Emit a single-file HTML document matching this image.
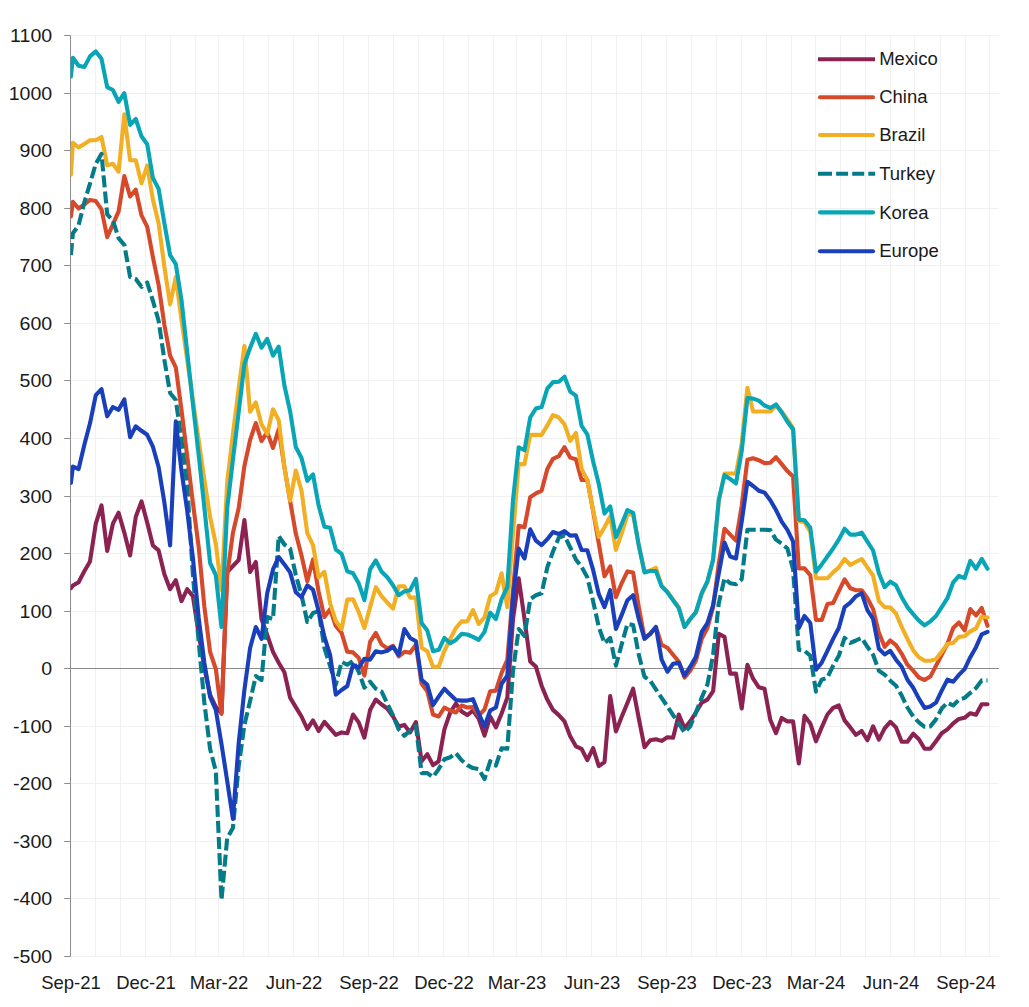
<!DOCTYPE html><html><head><meta charset="utf-8"><title>Chart</title><style>html,body{margin:0;padding:0;background:#fff;overflow:hidden}svg{display:block}text{font-family:"Liberation Sans",sans-serif;fill:#1a1a1a}</style></head><body>
<svg width="1029" height="1007" viewBox="0 0 1029 1007">
<rect width="1029" height="1007" fill="#fff"/>
<path d="M70.5 956.5H999.0M70.5 898.5H999.0M70.5 841.5H999.0M70.5 783.5H999.0M70.5 726.5H999.0M70.5 611.5H999.0M70.5 553.5H999.0M70.5 496.5H999.0M70.5 438.5H999.0M70.5 380.5H999.0M70.5 323.5H999.0M70.5 265.5H999.0M70.5 208.5H999.0M70.5 150.5H999.0M70.5 93.5H999.0M70.5 35.5H999.0M95.5 35.5V956.5M120.5 35.5V956.5M145.5 35.5V956.5M170.5 35.5V956.5M195.5 35.5V956.5M218.5 35.5V956.5M243.5 35.5V956.5M268.5 35.5V956.5M293.5 35.5V956.5M318.5 35.5V956.5M343.5 35.5V956.5M368.5 35.5V956.5M393.5 35.5V956.5M418.5 35.5V956.5M443.5 35.5V956.5M468.5 35.5V956.5M493.5 35.5V956.5M516.5 35.5V956.5M541.5 35.5V956.5M566.5 35.5V956.5M591.5 35.5V956.5M616.5 35.5V956.5M641.5 35.5V956.5M666.5 35.5V956.5M691.5 35.5V956.5M716.5 35.5V956.5M741.5 35.5V956.5M766.5 35.5V956.5M791.5 35.5V956.5M815.5 35.5V956.5M840.5 35.5V956.5M865.5 35.5V956.5M890.5 35.5V956.5M914.5 35.5V956.5M940.5 35.5V956.5M965.5 35.5V956.5M989.5 35.5V956.5" stroke="#f0f0f0" stroke-width="1" fill="none"/>
<path d="M70.5 35.5V956.5M70.5 668.5H999.0M64.2 956.5H70.5M64.2 898.5H70.5M64.2 841.5H70.5M64.2 783.5H70.5M64.2 726.5H70.5M64.2 668.5H70.5M64.2 611.5H70.5M64.2 553.5H70.5M64.2 496.5H70.5M64.2 438.5H70.5M64.2 380.5H70.5M64.2 323.5H70.5M64.2 265.5H70.5M64.2 208.5H70.5M64.2 150.5H70.5M64.2 93.5H70.5M64.2 35.5H70.5" stroke="#8c8c8c" stroke-width="1" fill="none"/>
<text transform="translate(52.2 962.8) scale(1 0.9)" font-size="19.6" text-anchor="end">-500</text>
<text transform="translate(52.2 904.8) scale(1 0.9)" font-size="19.6" text-anchor="end">-400</text>
<text transform="translate(52.2 847.8) scale(1 0.9)" font-size="19.6" text-anchor="end">-300</text>
<text transform="translate(52.2 789.8) scale(1 0.9)" font-size="19.6" text-anchor="end">-200</text>
<text transform="translate(52.2 732.8) scale(1 0.9)" font-size="19.6" text-anchor="end">-100</text>
<text transform="translate(52.2 674.8) scale(1 0.9)" font-size="19.6" text-anchor="end">0</text>
<text transform="translate(52.2 617.8) scale(1 0.9)" font-size="19.6" text-anchor="end">100</text>
<text transform="translate(52.2 559.8) scale(1 0.9)" font-size="19.6" text-anchor="end">200</text>
<text transform="translate(52.2 502.8) scale(1 0.9)" font-size="19.6" text-anchor="end">300</text>
<text transform="translate(52.2 444.8) scale(1 0.9)" font-size="19.6" text-anchor="end">400</text>
<text transform="translate(52.2 386.8) scale(1 0.9)" font-size="19.6" text-anchor="end">500</text>
<text transform="translate(52.2 329.8) scale(1 0.9)" font-size="19.6" text-anchor="end">600</text>
<text transform="translate(52.2 271.8) scale(1 0.9)" font-size="19.6" text-anchor="end">700</text>
<text transform="translate(52.2 214.8) scale(1 0.9)" font-size="19.6" text-anchor="end">800</text>
<text transform="translate(52.2 156.8) scale(1 0.9)" font-size="19.6" text-anchor="end">900</text>
<text transform="translate(52.2 99.8) scale(1 0.9)" font-size="19.6" text-anchor="end">1000</text>
<text transform="translate(52.2 41.8) scale(1 0.9)" font-size="19.6" text-anchor="end">1100</text>
<text x="71.0" y="989" font-size="18.5" text-anchor="middle">Sep-21</text>
<text x="146.0" y="989" font-size="18.5" text-anchor="middle">Dec-21</text>
<text x="219.0" y="989" font-size="18.5" text-anchor="middle">Mar-22</text>
<text x="294.0" y="989" font-size="18.5" text-anchor="middle">Jun-22</text>
<text x="369.0" y="989" font-size="18.5" text-anchor="middle">Sep-22</text>
<text x="444.0" y="989" font-size="18.5" text-anchor="middle">Dec-22</text>
<text x="517.0" y="989" font-size="18.5" text-anchor="middle">Mar-23</text>
<text x="592.0" y="989" font-size="18.5" text-anchor="middle">Jun-23</text>
<text x="667.0" y="989" font-size="18.5" text-anchor="middle">Sep-23</text>
<text x="742.0" y="989" font-size="18.5" text-anchor="middle">Dec-23</text>
<text x="816.0" y="989" font-size="18.5" text-anchor="middle">Mar-24</text>
<text x="891.0" y="989" font-size="18.5" text-anchor="middle">Jun-24</text>
<text x="966.0" y="989" font-size="18.5" text-anchor="middle">Sep-24</text>
<clipPath id="c"><rect x="70.5" y="0" width="928.5" height="1007"/></clipPath>
<g clip-path="url(#c)" fill="none" stroke-width="4.1" stroke-linejoin="round" stroke-linecap="round">
<path d="M70.9 588.2L72.9 585.6L78.6 582.2L84.3 571.3L90.0 561.4L95.8 523.6L101.5 505.4L107.2 551.0L112.9 523.6L118.6 512.7L124.3 532.6L130.1 555.4L135.8 516.7L141.5 501.4L147.2 522.6L152.9 545.5L158.6 550.4L164.4 574.3L170.1 589.2L175.8 580.2L181.5 601.1L187.2 589.2L192.9 596.1L198.7 634.0L204.4 668.0L210.1 695.0L215.8 707.0L221.5 713.0L227.2 572.0L232.9 566.0L238.7 560.0L244.4 520.0L250.1 572.0L255.8 562.0L261.5 619.0L267.2 634.9L273.0 651.9L278.7 662.8L284.4 672.2L290.1 697.6L295.8 707.1L301.5 716.5L307.3 729.0L313.0 720.4L318.7 731.0L324.4 721.8L330.1 728.4L335.8 734.9L341.6 732.4L347.3 733.3L353.0 714.5L358.7 722.4L364.4 737.7L370.1 709.9L375.8 699.6L381.6 704.5L387.3 708.5L393.0 716.5L398.7 726.4L404.4 724.9L410.1 732.4L415.9 722.1L421.6 761.2L427.3 754.2L433.0 765.1L438.7 761.2L444.4 729.4L450.2 712.5L455.9 703.6L461.6 711.5L467.3 715.1L473.0 710.5L478.7 718.5L484.5 735.7L490.2 716.5L495.9 727.4L501.6 713.5L507.3 697.6L513.0 619.0L518.7 578.3L524.5 619.0L530.2 661.5L535.9 666.6L541.6 685.7L547.3 699.6L553.0 709.9L558.8 715.1L564.5 721.4L570.2 736.3L575.9 746.3L581.6 748.9L587.3 760.2L593.1 748.2L598.8 766.1L604.5 762.1L610.2 696.0L615.9 731.4L621.6 717.1L627.4 703.0L633.1 688.7L638.8 718.5L644.5 747.2L650.2 740.3L655.9 739.3L661.6 740.9L667.4 737.3L673.1 737.7L678.8 714.5L684.5 728.4L690.2 721.4L695.9 712.5L701.7 702.6L707.4 699.6L713.1 691.2L718.8 633.9L724.5 636.9L730.2 673.6L736.0 673.6L741.7 708.5L747.4 664.7L753.1 678.7L758.8 687.3L764.5 688.7L770.3 719.9L776.0 733.1L781.7 717.9L787.4 721.4L793.1 721.4L798.8 763.5L804.5 715.9L810.3 723.4L816.0 741.3L821.7 727.4L827.4 714.5L833.1 707.9L838.8 705.5L844.6 720.4L850.3 727.4L856.0 734.9L861.7 731.0L867.4 740.3L873.1 726.4L878.9 739.7L884.6 728.4L890.3 721.8L896.0 727.4L901.7 741.7L907.4 741.7L913.2 733.7L918.9 739.3L924.6 748.8L930.3 748.8L936.0 741.3L941.7 733.3L947.4 729.4L953.2 723.4L958.9 718.9L964.6 717.8L970.3 713.2L976.0 714.8L981.7 704.3L987.5 704.3" stroke="#8C2252"/>
<path d="M70.9 216.4L72.9 201.9L78.6 208.5L84.3 204.5L90.0 199.9L95.8 201.1L101.5 209.4L107.2 237.2L112.9 224.3L118.6 211.4L124.3 176.1L130.1 196.5L135.8 189.6L141.5 215.4L147.2 226.7L152.9 257.1L158.6 284.9L164.4 325.0L170.1 355.7L175.8 367.3L181.5 410.0L187.2 456.0L192.9 503.0L198.7 547.0L204.4 607.0L210.1 652.0L215.8 669.0L221.5 714.0L227.2 575.0L232.9 533.0L238.7 508.0L244.4 466.0L250.1 440.0L255.8 423.0L261.5 441.1L267.2 432.1L273.0 448.0L278.7 429.2L284.4 467.0L290.1 500.9L295.8 533.6L301.5 555.5L307.3 581.3L313.0 559.4L318.7 592.2L324.4 617.0L330.1 609.1L335.8 626.0L341.6 632.9L347.3 651.8L353.0 652.4L358.7 657.8L364.4 675.6L370.1 641.9L375.8 632.9L381.6 644.4L387.3 648.4L393.0 645.8L398.7 656.4L404.4 651.8L410.1 652.8L415.9 644.8L421.6 683.7L427.3 691.2L433.0 714.5L438.7 716.5L444.4 707.5L450.2 710.5L455.9 712.5L461.6 705.5L467.3 707.5L473.0 707.1L478.7 715.5L484.5 709.5L490.2 691.2L495.9 690.6L501.6 672.8L507.3 659.9L513.0 590.9L518.7 525.7L524.5 527.2L530.2 497.2L535.9 493.4L541.6 490.6L547.3 469.1L553.0 458.8L558.8 456.2L564.5 447.2L570.2 457.6L575.9 459.2L581.6 480.0L587.3 480.0L593.1 510.8L598.8 543.6L604.5 576.3L610.2 566.4L615.9 597.2L621.6 583.3L627.4 571.4L633.1 572.4L638.8 607.1L644.5 637.9L650.2 633.9L655.9 627.0L661.6 644.8L667.4 647.8L673.1 654.8L678.8 661.7L684.5 677.6L690.2 670.7L695.9 660.7L701.7 638.9L707.4 628.0L713.1 607.1L718.8 563.4L724.5 528.7L730.2 534.6L736.0 540.6L741.7 505.8L747.4 459.8L753.1 458.2L758.8 460.2L764.5 463.1L770.3 462.7L776.0 457.2L781.7 464.1L787.4 471.1L793.1 476.6L798.8 568.4L804.5 568.4L810.3 575.3L816.0 620.0L821.7 620.0L827.4 604.1L833.1 603.1L838.8 591.2L844.6 579.3L850.3 588.2L856.0 590.2L861.7 590.2L867.4 598.2L873.1 609.1L878.9 632.9L884.6 646.8L890.3 640.5L896.0 645.2L901.7 653.8L907.4 664.7L913.2 670.7L918.9 677.6L924.6 680.0L930.3 676.6L936.0 665.7L941.7 654.8L947.4 643.9L953.2 628.0L958.9 622.5L964.6 630.4L970.3 609.1L976.0 615.5L981.7 607.9L987.5 625.8" stroke="#D6492A"/>
<path d="M70.9 174.7L72.9 142.9L78.6 147.5L84.3 143.9L90.0 140.3L95.8 140.3L101.5 137.0L107.2 165.4L112.9 163.8L118.6 171.7L124.3 114.4L130.1 160.2L135.8 160.2L141.5 183.2L147.2 165.7L152.9 199.5L158.6 223.3L164.4 267.0L170.1 304.4L175.8 277.0L181.5 320.0L187.2 360.0L192.9 400.0L198.7 440.0L204.4 480.0L210.1 517.0L215.8 544.0L221.5 590.0L227.2 482.0L232.9 434.0L238.7 388.0L244.4 346.0L250.1 411.7L255.8 402.4L261.5 424.2L267.2 434.1L273.0 409.3L278.7 420.2L284.4 466.9L290.1 500.7L295.8 470.5L301.5 490.7L307.3 533.2L313.0 545.1L318.7 577.3L324.4 571.8L330.1 603.1L335.8 621.0L341.6 629.0L347.3 599.6L353.0 599.2L358.7 612.1L364.4 628.0L370.1 607.1L375.8 587.2L381.6 596.2L387.3 602.7L393.0 608.7L398.7 586.3L404.4 586.3L410.1 597.6L415.9 597.6L421.6 647.8L427.3 651.2L433.0 666.7L438.7 666.7L444.4 650.8L450.2 638.9L455.9 628.0L461.6 621.4L467.3 621.4L473.0 610.1L478.7 624.0L484.5 617.4L490.2 596.2L495.9 592.8L501.6 573.3L507.3 607.1L513.0 533.6L518.7 464.1L524.5 464.1L530.2 434.9L535.9 434.9L541.6 434.9L547.3 425.4L553.0 415.1L558.8 417.5L564.5 424.4L570.2 440.9L575.9 432.9L581.6 469.1L587.3 480.0L593.1 510.3L598.8 537.1L604.5 527.2L610.2 516.3L615.9 549.9L621.6 533.6L627.4 514.8L633.1 513.8L638.8 545.5L644.5 571.8L650.2 570.4L655.9 567.8L661.6 585.7L667.4 591.6L673.1 599.6L678.8 607.5L684.5 627.0L690.2 619.4L695.9 612.7L701.7 594.2L707.4 582.3L713.1 560.4L718.8 501.4L724.5 473.5L730.2 473.5L736.0 473.5L741.7 443.3L747.4 387.7L753.1 411.5L758.8 411.5L764.5 411.5L770.3 411.5L776.0 405.5L781.7 411.5L787.4 419.4L793.1 428.4L798.8 521.1L804.5 522.3L810.3 531.7L816.0 578.3L821.7 578.3L827.4 578.3L833.1 572.4L838.8 567.4L844.6 559.0L850.3 565.0L856.0 561.8L861.7 559.0L867.4 567.4L873.1 575.7L878.9 601.2L884.6 607.1L890.3 607.5L896.0 613.5L901.7 627.0L907.4 638.9L913.2 650.4L918.9 657.2L924.6 660.7L930.3 660.7L936.0 659.1L941.7 651.8L947.4 643.9L953.2 642.9L958.9 636.9L964.6 636.3L970.3 631.4L976.0 628.4L981.7 616.5L987.5 617.5" stroke="#F2AF23"/>
<path d="M70.9 255.1L72.9 233.3L78.6 225.3L84.3 202.5L90.0 183.6L95.8 163.8L101.5 153.8L107.2 214.4L112.9 220.4L118.6 238.2L124.3 244.8L130.1 277.0L135.8 279.0L141.5 286.9L147.2 282.5L152.9 300.8L158.6 320.7L164.4 360.0L170.1 393.0L175.8 400.0L181.5 440.0L187.2 485.0L192.9 575.0L198.7 642.0L204.4 703.0L210.1 749.0L215.8 771.0L221.5 900.0L227.2 838.0L232.9 828.0L238.7 766.0L244.4 725.0L250.1 701.0L255.8 676.0L261.5 680.0L267.2 617.0L273.0 619.0L278.7 536.0L284.4 544.5L290.1 548.5L295.8 575.0L301.5 595.0L307.3 622.0L313.0 613.0L318.7 611.0L324.4 648.0L330.1 666.0L335.8 684.7L341.6 661.8L347.3 664.8L353.0 660.9L358.7 671.8L364.4 687.7L370.1 681.7L375.8 688.7L381.6 691.6L387.3 703.6L393.0 715.5L398.7 729.4L404.4 735.8L410.1 730.4L415.9 725.9L421.6 773.1L427.3 773.1L433.0 777.0L438.7 769.1L444.4 759.2L450.2 757.2L455.9 753.2L461.6 760.2L467.3 765.1L473.0 768.1L478.7 769.1L484.5 779.0L490.2 761.2L495.9 765.5L501.6 748.2L507.3 748.8L513.0 670.7L518.7 629.0L524.5 635.9L530.2 599.2L535.9 595.2L541.6 593.2L547.3 567.4L553.0 551.5L558.8 537.6L564.5 535.6L570.2 547.5L575.9 559.4L581.6 566.9L587.3 577.3L593.1 601.2L598.8 627.0L604.5 643.3L610.2 637.9L615.9 665.7L621.6 644.8L627.4 624.0L633.1 625.0L638.8 654.8L644.5 676.7L650.2 680.7L655.9 689.3L661.6 697.8L667.4 706.5L673.1 715.1L678.8 723.6L684.5 732.4L690.2 726.4L695.9 712.5L701.7 697.6L707.4 684.7L713.1 654.8L718.8 603.1L724.5 578.3L730.2 583.3L736.0 584.3L741.7 579.3L747.4 529.7L753.1 529.7L758.8 529.7L764.5 529.7L770.3 530.1L776.0 539.6L781.7 543.6L787.4 548.5L793.1 569.4L798.8 649.8L804.5 650.8L810.3 655.8L816.0 691.6L821.7 679.7L827.4 677.7L833.1 665.7L838.8 655.8L844.6 637.9L850.3 642.9L856.0 640.5L861.7 637.9L867.4 646.8L873.1 654.8L878.9 670.7L884.6 674.6L890.3 680.7L896.0 685.7L901.7 695.6L907.4 707.5L913.2 716.5L918.9 722.4L924.6 726.8L930.3 726.4L936.0 719.4L941.7 708.5L947.4 702.6L953.2 705.5L958.9 699.7L964.6 697.9L970.3 692.9L976.0 688.0L981.7 680.4L987.5 680.4" stroke="#047B88" stroke-dasharray="12 4.1" stroke-linecap="butt"/>
<path d="M70.9 76.5L72.9 57.8L78.6 65.7L84.3 67.1L90.0 56.4L95.8 51.4L101.5 58.8L107.2 87.2L112.9 90.0L118.6 101.9L124.3 93.2L130.1 124.9L135.8 119.0L141.5 136.3L147.2 144.2L152.9 178.0L158.6 188.9L164.4 223.3L170.1 255.1L175.8 264.1L181.5 300.0L187.2 352.0L192.9 404.0L198.7 455.0L204.4 508.0L210.1 563.0L215.8 575.0L221.5 627.0L227.2 508.0L232.9 460.0L238.7 412.0L244.4 364.0L250.1 347.7L255.8 333.8L261.5 347.7L267.2 338.8L273.0 355.7L278.7 346.7L284.4 385.5L290.1 411.3L295.8 447.0L301.5 458.0L307.3 480.8L313.0 474.4L318.7 505.8L324.4 526.7L330.1 527.7L335.8 549.5L341.6 553.9L347.3 571.4L353.0 573.3L358.7 583.3L364.4 600.2L370.1 569.4L375.8 560.4L381.6 571.8L387.3 577.3L393.0 585.3L398.7 595.2L404.4 591.4L410.1 590.2L415.9 578.9L421.6 623.0L427.3 630.5L433.0 651.2L438.7 649.8L444.4 637.9L450.2 643.3L455.9 639.9L461.6 633.9L467.3 634.5L473.0 636.9L478.7 639.9L484.5 631.9L490.2 612.7L495.9 619.0L501.6 599.2L507.3 587.2L513.0 499.9L518.7 447.2L524.5 450.2L530.2 417.5L535.9 408.5L541.6 407.1L547.3 388.7L553.0 382.1L558.8 381.7L564.5 376.7L570.2 391.6L575.9 395.6L581.6 425.8L587.3 434.3L593.1 461.2L598.8 484.0L604.5 513.6L610.2 506.3L615.9 537.1L621.6 524.2L627.4 510.0L633.1 512.8L638.8 545.5L644.5 572.4L650.2 571.0L655.9 571.0L661.6 586.3L667.4 592.2L673.1 600.2L678.8 608.1L684.5 627.0L690.2 619.0L695.9 612.1L701.7 593.2L707.4 581.3L713.1 559.4L718.8 499.4L724.5 475.1L730.2 479.0L736.0 483.4L741.7 451.2L747.4 398.0L753.1 398.6L758.8 400.6L764.5 405.5L770.3 407.9L776.0 404.5L781.7 412.5L787.4 421.8L793.1 429.4L798.8 519.7L804.5 520.3L810.3 527.7L816.0 571.8L821.7 564.4L827.4 556.5L833.1 548.5L838.8 539.6L844.6 528.7L850.3 534.6L856.0 534.6L861.7 532.6L867.4 541.6L873.1 550.5L878.9 573.3L884.6 587.2L890.3 581.7L896.0 585.3L901.7 597.2L907.4 607.1L913.2 614.1L918.9 620.6L924.6 625.4L930.3 621.4L936.0 616.0L941.7 607.1L947.4 598.2L953.2 582.3L958.9 575.9L964.6 578.1L970.3 560.9L976.0 568.8L981.7 558.9L987.5 568.8" stroke="#08A5B6"/>
<path d="M70.9 482.9L72.9 466.6L78.6 469.0L84.3 445.1L90.0 423.3L95.8 395.1L101.5 389.1L107.2 416.3L112.9 407.0L118.6 409.8L124.3 399.4L130.1 437.2L135.8 426.3L141.5 430.8L147.2 434.8L152.9 446.7L158.6 467.0L164.4 502.7L170.1 545.4L175.8 421.3L181.5 470.9L187.2 510.7L192.9 558.0L198.7 618.0L204.4 663.0L210.1 697.0L215.8 710.0L221.5 744.0L227.2 781.0L232.9 819.0L238.7 743.0L244.4 690.0L250.1 648.0L255.8 627.0L261.5 638.9L267.2 593.2L273.0 569.4L278.7 557.1L284.4 564.4L290.1 572.4L295.8 592.2L301.5 597.2L307.3 585.3L313.0 589.6L318.7 611.1L324.4 636.9L330.1 654.8L335.8 694.6L341.6 690.0L347.3 686.0L353.0 664.7L358.7 667.7L364.4 658.7L370.1 659.7L375.8 651.2L381.6 652.4L387.3 650.8L393.0 646.8L398.7 654.8L404.4 629.0L410.1 637.9L415.9 641.3L421.6 679.7L427.3 684.7L433.0 705.1L438.7 696.6L444.4 688.7L450.2 694.6L455.9 700.0L461.6 700.6L467.3 700.6L473.0 699.2L478.7 713.5L484.5 726.4L490.2 710.5L495.9 707.5L501.6 683.7L507.3 675.7L513.0 597.2L518.7 548.5L524.5 558.5L530.2 529.3L535.9 540.6L541.6 545.1L547.3 539.2L553.0 532.0L558.8 534.0L564.5 531.2L570.2 535.6L575.9 535.2L581.6 550.0L587.3 550.2L593.1 569.9L598.8 594.2L604.5 607.1L610.2 590.2L615.9 629.0L621.6 615.1L627.4 600.2L633.1 595.2L638.8 619.0L644.5 638.9L650.2 633.9L655.9 627.0L661.6 659.7L667.4 671.7L673.1 663.7L678.8 662.7L684.5 675.6L690.2 666.7L695.9 656.8L701.7 631.9L707.4 623.0L713.1 605.1L718.8 573.3L724.5 542.6L730.2 556.5L736.0 558.5L741.7 521.7L747.4 481.7L753.1 486.0L758.8 490.7L764.5 492.6L770.3 500.2L776.0 510.1L781.7 521.7L787.4 529.9L793.1 541.6L798.8 628.0L804.5 616.0L810.3 623.0L816.0 669.7L821.7 662.7L827.4 650.8L833.1 638.9L838.8 628.0L844.6 607.1L850.3 602.7L856.0 596.2L861.7 593.2L867.4 610.1L873.1 619.0L878.9 648.8L884.6 654.4L890.3 650.8L896.0 659.7L901.7 666.7L907.4 679.7L913.2 687.7L918.9 698.6L924.6 707.9L930.3 706.5L936.0 702.6L941.7 690.6L947.4 679.7L953.2 681.7L958.9 674.9L964.6 669.1L970.3 657.2L976.0 647.2L981.7 634.3L987.5 631.8" stroke="#1A3FBB"/>
</g>
<path d="M818 59.2H875" stroke="#8C2252" stroke-width="4.1" fill="none"/>
<text transform="translate(879.2 65.3) scale(1 0.945)" font-size="18.5">Mexico</text>
<path d="M820 97.2H873" stroke="#D6492A" stroke-width="4.1" fill="none" stroke-linecap="round"/>
<text transform="translate(879.2 103.3) scale(1 0.945)" font-size="18.5">China</text>
<path d="M820 135H873" stroke="#F2AF23" stroke-width="4.1" fill="none" stroke-linecap="round"/>
<text transform="translate(879.2 141.1) scale(1 0.945)" font-size="18.5">Brazil</text>
<path d="M818 173.8H832M836.1 173.8H848.1M852.2 173.8H864.2M868.3 173.8H875" stroke="#047B88" stroke-width="4.1" fill="none"/>
<text transform="translate(879.2 179.9) scale(1 0.945)" font-size="18.5">Turkey</text>
<path d="M820 212.4H873" stroke="#08A5B6" stroke-width="4.1" fill="none" stroke-linecap="round"/>
<text transform="translate(879.2 218.5) scale(1 0.945)" font-size="18.5">Korea</text>
<path d="M820 251.2H873" stroke="#1A3FBB" stroke-width="4.1" fill="none" stroke-linecap="round"/>
<text transform="translate(879.2 257.3) scale(1 0.945)" font-size="18.5">Europe</text>
</svg></body></html>
